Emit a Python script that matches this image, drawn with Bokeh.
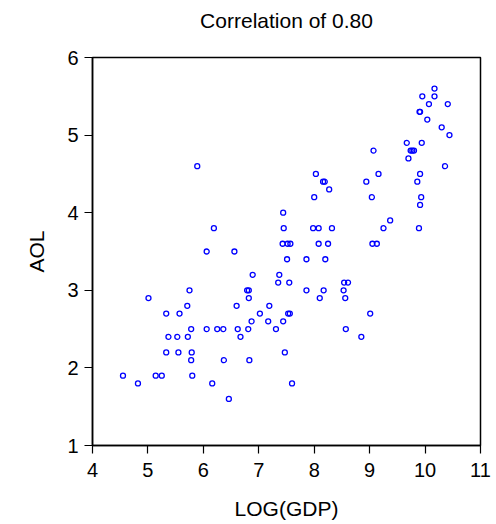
from bokeh.plotting import figure
from bokeh.models import Range1d, FixedTicker, ColumnDataSource, Title
from bokeh.embed import file_html
from bokeh.resources import INLINE

# Data (LOG(GDP), AOL)
log_gdp = [
    10.17,
    9.95, 10.17,
    10.07, 10.41,
    9.90, 9.91,
    10.04,
    10.30,
    10.44,
    9.67, 9.94,
    9.07, 9.74, 9.77, 9.80,
    9.70,
    5.89, 10.36,
    8.03, 9.16, 9.91,
    8.16, 8.19, 8.94, 9.86,
    8.27,
    8.00, 9.04, 9.93,
    9.91,
    7.44,
    9.37,
    6.19, 7.45, 7.98, 8.08, 8.32, 9.25, 9.89,
    7.43, 7.52, 7.57, 8.08, 8.25, 9.05, 9.13,
    6.06, 6.56,
    7.51, 7.86, 8.20,
    6.89, 7.37,
    7.35, 7.55, 8.54, 8.61,
    5.75, 6.79, 6.82, 7.86, 8.17, 8.53,
    5.01, 6.82, 8.10, 8.56,
    5.71, 6.60, 7.19,
    5.33, 5.57, 7.02, 7.53, 7.56, 9.01,
    6.87, 7.17, 7.44,
    5.78, 6.06, 6.25, 6.36, 6.62, 6.81, 7.31, 8.57,
    5.37, 5.53, 5.72, 6.67, 8.85,
    5.33, 5.55, 5.79, 7.47,
    5.78, 6.37, 6.83,
    4.55, 5.14, 5.25, 5.80,
    4.82, 6.16, 7.60,
    6.46,
]
aol = [
    5.6,
    5.5, 5.5,
    5.4, 5.4,
    5.3, 5.3,
    5.2,
    5.1,
    5.0,
    4.9, 4.9,
    4.8, 4.8, 4.8, 4.8,
    4.7,
    4.6, 4.6,
    4.5, 4.5, 4.5,
    4.4, 4.4, 4.4, 4.4,
    4.3,
    4.2, 4.2, 4.2,
    4.1,
    4.0,
    3.9,
    3.8, 3.8, 3.8, 3.8, 3.8, 3.8, 3.8,
    3.6, 3.6, 3.6, 3.6, 3.6, 3.6, 3.6,
    3.5, 3.5,
    3.4, 3.4, 3.4,
    3.2, 3.2,
    3.1, 3.1, 3.1, 3.1,
    3.0, 3.0, 3.0, 3.0, 3.0, 3.0,
    2.9, 2.9, 2.9, 2.9,
    2.8, 2.8, 2.8,
    2.7, 2.7, 2.7, 2.7, 2.7, 2.7,
    2.6, 2.6, 2.6,
    2.5, 2.5, 2.5, 2.5, 2.5, 2.5, 2.5, 2.5,
    2.4, 2.4, 2.4, 2.4, 2.4,
    2.2, 2.2, 2.2, 2.2,
    2.1, 2.1, 2.1,
    1.9, 1.9, 1.9, 1.9,
    1.8, 1.8, 1.8,
    1.6,
]
x_ticks = [4, 5, 6, 7, 8, 9, 10, 11]
y_ticks = [1, 2, 3, 4, 5, 6]

title_text = "Correlation of 0.80"
x_label = "LOG(GDP)"
y_label = "AOL"

FONT = "Liberation Sans"

p = figure(width=496, height=524, output_backend="svg", toolbar_location=None,
           x_range=Range1d(4, 11), y_range=Range1d(1, 6),
           min_border_left=92, min_border_right=16,
           min_border_top=57, min_border_bottom=79,
           title=title_text)

# keep references to the real axes before adding anything else
x_axis = p.below[0]
y_axis = p.left[0]

p.title.align = "center"
p.title.vertical_align = "top"
p.title.standoff = 0
p.title.text_font = FONT
p.title.text_font_size = "21px"
p.title.text_font_style = "normal"
p.title.text_color = "black"

# blank spacer panel between the frame and the title, lifting the title up
spacer = Title(text=" ", text_font=FONT, text_font_size="20px", standoff=0)
p.add_layout(spacer, "above")

p.xgrid.visible = False
p.ygrid.visible = False
p.background_fill_color = "white"
p.border_fill_color = "white"
p.outline_line_color = "black"
p.outline_line_width = 1.5
p.outline_line_alpha = 1.0

for ax in (x_axis, y_axis):
    ax.axis_line_color = "black"
    ax.axis_line_width = 1.5
    ax.major_tick_in = 0
    ax.major_tick_out = 8
    ax.major_tick_line_color = "black"
    ax.major_tick_line_width = 1.2
    ax.minor_tick_line_color = None
    ax.major_label_text_font = FONT
    ax.major_label_text_font_size = "20px"
    ax.major_label_text_color = "black"
    ax.axis_label_text_font = FONT
    ax.axis_label_text_font_size = "21px"
    ax.axis_label_text_font_style = "normal"
    ax.axis_label_text_color = "black"
    ax.major_label_standoff = 6

x_axis.major_label_standoff = 9
x_axis.ticker = FixedTicker(ticks=x_ticks)
y_axis.ticker = FixedTicker(ticks=y_ticks)
x_axis.axis_label = x_label
y_axis.axis_label = y_label
x_axis.axis_label_standoff = 17
y_axis.axis_label_standoff = 16

src = ColumnDataSource(data=dict(x=log_gdp, y=aol))
p.scatter("x", "y", source=src, marker="circle", size=5,
          fill_color=None, line_color="#0000ff", line_width=1.3)

open("out.html", "w").write(file_html(p, INLINE))
